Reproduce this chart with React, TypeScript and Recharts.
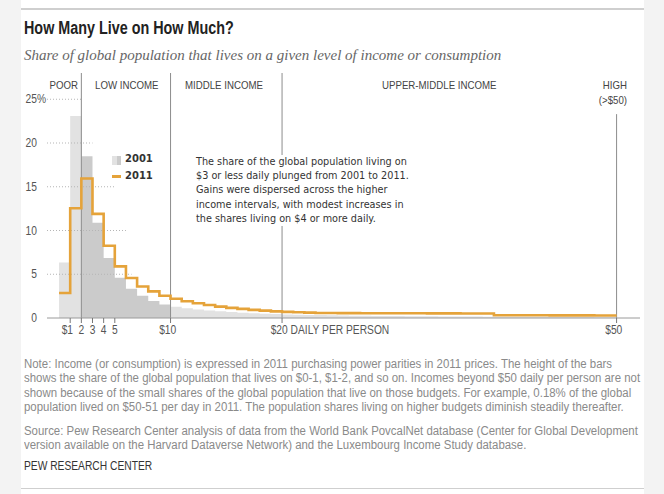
import React from "react";
import {
  Area,
  ComposedChart,
  Line,
  ReferenceLine,
  XAxis,
  YAxis,
} from "recharts";

// share of global population in each $1 income bin ($0-1, $1-2, ... $49-50)
const share2001 = [
  6.35, 23.1, 18.5, 10.9, 6.85, 4.6, 3.35, 2.55, 1.95, 1.55,
  1.3, 1.12, 0.98, 0.86, 0.76, 0.68, 0.6, 0.54, 0.49, 0.45,
  0.41, 0.38, 0.35, 0.33, 0.31, 0.29, 0.27, 0.25, 0.24, 0.23,
  0.22, 0.21, 0.2, 0.19, 0.18, 0.17, 0.17, 0.16, 0.15, 0.15,
  0.14, 0.14, 0.13, 0.13, 0.12, 0.12, 0.11, 0.11, 0.1, 0.1,
];
const share2011 = [
  2.85, 12.55, 15.95, 11.9, 8.25, 5.9, 4.57, 3.6, 3.04, 2.55,
  2.2, 1.92, 1.68, 1.48, 1.3, 1.16, 1.04, 0.93, 0.84, 0.76,
  0.7, 0.65, 0.61, 0.58, 0.57, 0.56, 0.56, 0.55, 0.55, 0.55,
  0.54, 0.54, 0.54, 0.53, 0.53, 0.53, 0.52, 0.52, 0.52, 0.32,
  0.32, 0.31, 0.31, 0.31, 0.3, 0.3, 0.3, 0.3, 0.29, 0.29,
];

const xTicks = [1, 2, 3, 4, 5, 10, 20, 50];
const xTickLabels: Record<number, string> = {
  1: "$1",
  2: "2",
  3: "3",
  4: "4",
  5: "5",
  10: "$10",
  20: "$20 DAILY PER PERSON",
  50: "$50",
};
const yTicks = [0, 5, 10, 15, 20, 25];
const incomeBreaks = [2, 10, 20];
// how far (in $) each dotted gridline runs
const gridReach: [number, number][] = [
  [25, 2],
  [20, 3],
  [15, 5],
  [10, 6],
  [5, 6.5],
];

const lastOf = (arr: number[], k: number) => (k < arr.length ? arr[k] : arr[arr.length - 1]);

const table = Array.from({ length: 51 }, (_, k) => ({
  x: k,
  poor: k <= 2 ? lastOf(share2001, Math.min(k, 1)) : null,
  low: k >= 2 && k <= 10 ? lastOf(share2001, Math.min(k, 9)) : null,
  rest: k >= 10 ? lastOf(share2001, k) : null,
  y2011: lastOf(share2011, k),
}));

// no narrow font installed: squeeze Liberation Sans like Arial Narrow
const SANS = '"Liberation Sans", Arial, sans-serif';
const SQ = 0.82;
const VERD = '"DejaVu Sans", Verdana, sans-serif';
const ORANGE = "#e5a33a";
const LIGHT = "#e2e2e2";
const DARK = "#cbcbcb";
const DIGIT = 12.5 * 0.556 * SQ;

const XTick = (props: any) => {
  const { x, y, payload } = props;
  const v = payload.value;
  const text = xTickLabels[v];
  // the number sits on the tick, the "$" hangs to its left
  const start = text.startsWith("$") ? x - (String(v).length * DIGIT) / 2 - DIGIT : x - DIGIT / 2;
  return (
    <text transform={`translate(${start},${y + 9}) scale(${SQ},1)`} fontFamily={SANS} fontSize={12.5} fill="#555">
      {text}
    </text>
  );
};

const YTick = (props: any) => {
  const { y, payload } = props;
  return (
    <g transform={`translate(37,${y + 4})`}>
      <text transform={`scale(${SQ},1)`} textAnchor="end" fontFamily={SANS} fontSize={12.5} fill="#555">
        {payload.value}
      </text>
      {payload.value === 25 && (
        <text transform={`scale(${SQ},1)`} fontFamily={SANS} fontSize={12.5} fill="#555">
          %
        </text>
      )}
    </g>
  );
};

const abs = (left: number, top: number, extra: React.CSSProperties = {}): React.CSSProperties => ({
  position: "absolute",
  left,
  top,
  whiteSpace: "nowrap",
  ...extra,
});

const Narrow = ({ left, top, style, right, squeeze = SQ, children }: any) => (
  <div
    style={abs(left, top, {
      fontFamily: SANS,
      transform: `scaleX(${squeeze})`,
      transformOrigin: right ? "100% 0" : "0 0",
      ...style,
    })}
  >
    {children}
  </div>
);

export default function App() {
  const label: React.CSSProperties = { fontSize: 11.8, color: "#444", lineHeight: "14px" };
  const note: React.CSSProperties = { fontSize: 12.5, color: "#8a8a8a", lineHeight: "14.3px" };
  return (
    <div style={{ position: "absolute", left: 0, top: 0, width: 664, height: 494, background: "#f3f3f3", overflow: "hidden" }}>
      <div style={{ position: "absolute", left: 21, top: 0, width: 623, height: 494, background: "#fff" }} />
      <div style={{ position: "absolute", left: 21, top: 8, width: 623, height: 1.5, background: "#cfcfcf" }} />
      <Narrow left={24} top={18} style={{ fontWeight: 700, fontSize: 17.5, color: "#222" }}>
        How Many Live on How Much?
      </Narrow>
      <div style={abs(24, 47, { fontFamily: '"Liberation Serif", "DejaVu Serif", serif', fontStyle: "italic", fontSize: 15, color: "#666" })}>
        Share of global population that lives on a given level of income or consumption
      </div>

      <div style={{ position: "absolute", left: 0, top: 0 }}>
        <ComposedChart width={664} height={346} data={table} margin={{ top: 73, right: 24, bottom: 0, left: 0 }}>
          <XAxis
            type="number"
            dataKey="x"
            domain={[-1.08, 52.1]}
            allowDataOverflow
            ticks={xTicks}
            interval={0}
            tickSize={5}
            height={28}
            tickLine={{ stroke: "#777" }}
            axisLine={{ stroke: "#9a9a9a" }}
            tick={<XTick />}
          />
          <YAxis
            type="number"
            domain={[0, 28]}
            allowDataOverflow
            ticks={yTicks}
            width={47}
            axisLine={false}
            tickLine={false}
            tick={<YTick />}
          />
          <Area type="stepAfter" dataKey="poor" fill={LIGHT} fillOpacity={1} stroke="none" isAnimationActive={false} />
          <Area type="stepAfter" dataKey="low" fill={DARK} fillOpacity={1} stroke="none" isAnimationActive={false} />
          <Area type="stepAfter" dataKey="rest" fill={LIGHT} fillOpacity={1} stroke="none" isAnimationActive={false} />
          {gridReach.map(([v, reach]) => (
            <ReferenceLine
              key={v}
              segment={[
                { x: -1.08, y: v },
                { x: reach, y: v },
              ]}
              stroke="#b5b5b5"
              strokeDasharray="1 2"
            />
          ))}
          {incomeBreaks.map((b) => (
            <ReferenceLine key={b} x={b} stroke="#8c8c8c" strokeWidth={1} />
          ))}
          <ReferenceLine
            segment={[
              { x: 50, y: 23.3 },
              { x: 50, y: 0 },
            ]}
            stroke="#8c8c8c"
            strokeWidth={1}
          />
          <Line
            type="stepAfter"
            dataKey="y2011"
            stroke={ORANGE}
            strokeWidth={2.6}
            dot={false}
            activeDot={false}
            isAnimationActive={false}
          />
        </ComposedChart>
      </div>

      <Narrow left={18} top={78} right style={{ ...label, width: 60, textAlign: "right" }}>POOR</Narrow>
      <Narrow left={95} top={78} style={label}>LOW INCOME</Narrow>
      <Narrow left={185} top={78} style={label}>MIDDLE INCOME</Narrow>
      <Narrow left={382} top={78} style={label}>UPPER-MIDDLE INCOME</Narrow>
      <Narrow left={547} top={78} right style={{ ...label, width: 80, textAlign: "right" }}>HIGH</Narrow>
      <Narrow left={547} top={93} right style={{ ...label, width: 80, textAlign: "right" }}>(&gt;$50)</Narrow>

      <div style={abs(112, 156, { width: 9, height: 9, background: `linear-gradient(to right, ${LIGHT} 50%, ${DARK} 50%)` })} />
      <div style={abs(125, 153, { fontFamily: VERD, fontWeight: 700, fontSize: 10, color: "#333" })}>2001</div>
      <div style={abs(112, 175, { width: 9, height: 3, background: ORANGE })} />
      <div style={abs(125, 170, { fontFamily: VERD, fontWeight: 700, fontSize: 10, color: "#333" })}>2011</div>

      <div style={abs(192, 155, { fontFamily: VERD, fontSize: 9.7, lineHeight: "14.2px", color: "#333", background: "#fff", padding: "0 4px" })}>
        The share of the global population living on
        <br />
        $3 or less daily plunged from 2001 to 2011.
        <br />
        Gains were dispersed across the higher
        <br />
        income intervals, with modest increases in
        <br />
        the shares living on $4 or more daily.
      </div>

      <Narrow left={24} top={357} squeeze={0.914} style={note}>
        Note: Income (or consumption) is expressed in 2011 purchasing power parities in 2011 prices. The height of the bars
        <br />
        shows the share of the global population that lives on $0-1, $1-2, and so on. Incomes beyond $50 daily per person are not
        <br />
        shown because of the small shares of the global population that live on those budgets. For example, 0.18% of the global
        <br />
        population lived on $50-51 per day in 2011. The population shares living on higher budgets diminish steadily thereafter.
      </Narrow>
      <Narrow left={24} top={424} squeeze={0.914} style={note}>
        Source: Pew Research Center analysis of data from the World Bank PovcalNet database (Center for Global Development
        <br />
        version available on the Harvard Dataverse Network) and the Luxembourg Income Study database.
      </Narrow>
      <Narrow left={24} top={459} style={{ fontSize: 12.5, color: "#333" }}>PEW RESEARCH CENTER</Narrow>
      <div style={{ position: "absolute", left: 21, top: 488, width: 623, height: 1, background: "#cfcfcf" }} />
    </div>
  );
}
